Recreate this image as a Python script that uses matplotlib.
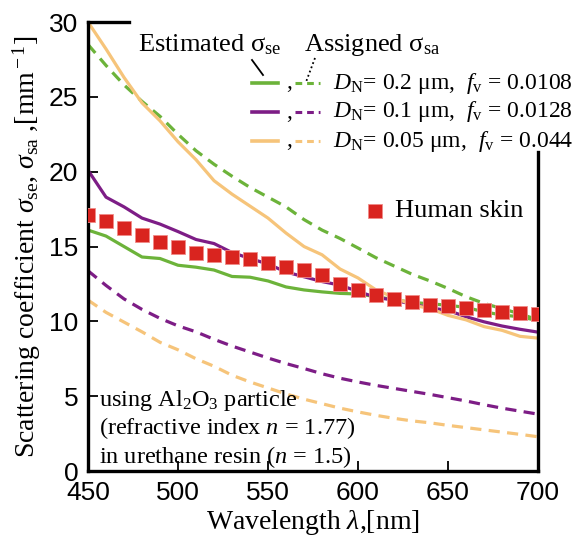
"""
Scattering coefficient of Al2O3 / urethane phantoms vs human skin.
Estimated (solid) and assigned (dashed) curves for three particle sizes.
"""

import matplotlib.pyplot as plt
import numpy as np

plt.rcParams["font.family"] = ["Liberation Serif", "DejaVu Serif"]
plt.rcParams["mathtext.fontset"] = "custom"
plt.rcParams["mathtext.rm"] = "Liberation Serif"
plt.rcParams["mathtext.it"] = "Liberation Serif:italic"
plt.rcParams["mathtext.bf"] = "Liberation Serif:bold"

GREEN = "#6cb33a"
PURPLE = "#7d1d86"
YELLOW = "#f6c47a"
RED = "#d9241f"

wavelength = np.arange(450, 701, 10)

# estimated sigma_se (solid)
se_200 = [16.1, 15.7, 15.0, 14.3, 14.2, 13.75, 13.62, 13.43, 13.0, 12.95, 12.7,
          12.3, 12.1, 11.97, 11.87, 11.83, 11.65, 11.45, 11.27, 11.17, 11.08,
          10.93, 10.64, 10.42, 10.31, 10.05]
se_100 = [20.1, 18.3, 17.65, 16.9, 16.5, 16.0, 15.47, 15.2, 14.6, 14.2, 13.83,
          13.3, 12.98, 12.66, 12.42, 12.0, 11.6, 11.42, 11.15, 10.9, 10.73,
          10.31, 9.97, 9.69, 9.47, 9.28]
se_050 = [30.0, 28.2, 26.3, 24.6, 23.4, 22.0, 20.8, 19.4, 18.5, 17.7, 16.9,
          15.9, 15.0, 14.45, 13.5, 12.9, 12.1, 11.6, 11.1, 10.85, 10.4, 10.1,
          9.65, 9.4, 9.0, 8.88]

# assigned sigma_sa (dashed)
sa_200 = [28.5, 27.1, 25.8, 24.7, 23.7, 22.5, 21.4, 20.5, 19.7, 18.95, 18.3,
          17.65, 16.8, 16.1, 15.54, 14.9, 14.25, 13.7, 13.15, 12.7, 12.2, 11.65,
          11.2, 10.85, 10.5, 10.1]
sa_100 = [13.38, 12.4, 11.5, 10.8, 10.2, 9.7, 9.3, 8.8, 8.35, 7.95, 7.55, 7.18,
          6.85, 6.5, 6.2, 5.95, 5.72, 5.52, 5.32, 5.12, 4.9, 4.68, 4.43, 4.2,
          4.0, 3.8]
sa_050 = [11.42, 10.6, 9.95, 9.3, 8.6, 8.1, 7.5, 7.0, 6.4, 5.95, 5.55, 5.15,
          4.8, 4.5, 4.2, 3.95, 3.72, 3.52, 3.35, 3.22, 3.05, 2.9, 2.75, 2.6,
          2.45, 2.29]

skin = [17.1, 16.7, 16.25, 15.77, 15.3, 14.94, 14.58, 14.43, 14.32, 14.14,
        13.87, 13.65, 13.43, 13.1, 12.5, 12.12, 11.76, 11.49, 11.31, 11.12,
        11.0, 10.89, 10.73, 10.64, 10.55, 10.48]

series = [
    (se_200, sa_200, GREEN, r"$D_{\rm N}$= 0.2 μm,  $f_{\rm v}$ = 0.0108"),
    (se_100, sa_100, PURPLE, r"$D_{\rm N}$= 0.1 μm,  $f_{\rm v}$ = 0.0128"),
    (se_050, sa_050, YELLOW, r"$D_{\rm N}$= 0.05 μm,  $f_{\rm v}$ = 0.044"),
]

fig = plt.figure(figsize=(5.73, 5.38), dpi=100)
ax = fig.add_axes([0.1536, 0.1245, 0.7854, 0.8345])

for se, sa, color, _ in series:
    ax.plot(wavelength, se, color=color, lw=2.3, solid_joinstyle="round")
    ax.plot(wavelength, sa, color=color, lw=2.3, dashes=(3.5, 2.3))

ax.plot(wavelength, skin, ls="none", marker="s", ms=9.5, color=RED,
        markeredgecolor="#f08a88", markeredgewidth=0.6, zorder=5)

ax.set_xlim(450, 700)
ax.set_ylim(0, 30)
ax.set_xticks(np.arange(450, 701, 50))
ax.set_yticks(np.arange(0, 31, 5))
ax.tick_params(direction="in", length=7, width=1.3, labelsize=19, pad=7)
for lab in ax.get_xticklabels() + ax.get_yticklabels():
    lab.set_family("Liberation Sans")
for side in ax.spines.values():
    side.set_linewidth(2.4)
ax.spines["top"].set_bounds(450, 473)
ax.spines["right"].set_bounds(0, 21.3)

ax.set_xlabel(r"Wavelength $\lambda$,[nm]", fontsize=20, labelpad=2)
ax.set_ylabel(r"Scattering coefficient $\it{\sigma}_{\rm se}$, $\it{\sigma}_{\rm sa}$ ,[mm$^{\rm -1}$]",
              fontsize=20, labelpad=4)

# legend drawn by hand, in figure pixels
W, H = 573.0, 538.0


def fx(px):
    return px / W


def fy(py):
    return 1 - py / H


fig.text(fx(138), fy(45), r"Estimated σ$_{\rm se}$", fontsize=19, va="center")
fig.text(fx(304), fy(45), r"Assigned σ$_{\rm sa}$", fontsize=19, va="center")
fig.add_artist(plt.Line2D([fx(252), fx(263)], [fy(60), fy(75)], color="black", lw=1.3))
fig.add_artist(plt.Line2D([fx(315), fx(306)], [fy(58), fy(82)], color="black", lw=1.3,
                          ls=(0, (1, 1.5))))
for i, (_, _, color, label) in enumerate(series):
    yy = fy(83 + i * 29)
    fig.add_artist(plt.Line2D([fx(252), fx(278)], [yy, yy], color=color, lw=2.6))
    fig.text(fx(286), yy, ",", fontsize=17, va="center")
    fig.add_artist(plt.Line2D([fx(295), fx(320)], [yy, yy], color=color, lw=2.2,
                              dashes=(2.2, 1.6)))
    fig.text(fx(333), yy, label, fontsize=17, va="center")

ax.plot([0.638], [0.579], transform=ax.transAxes, ls="none", marker="s", ms=9.5,
        color=RED, markeredgecolor="#f08a88", markeredgewidth=0.6)
ax.text(0.682, 0.579, "Human skin", transform=ax.transAxes, fontsize=19, va="center")

note = ("using Al$_2$O$_3$ particle\n"
        "(refractive index $n$ = 1.77)\n"
        "in urethane resin ($n$ = 1.5)")
ax.text(0.025, 0.094, note, transform=ax.transAxes, fontsize=17.5, va="center",
        linespacing=1.15)

fig.savefig("out.png", dpi=100)
